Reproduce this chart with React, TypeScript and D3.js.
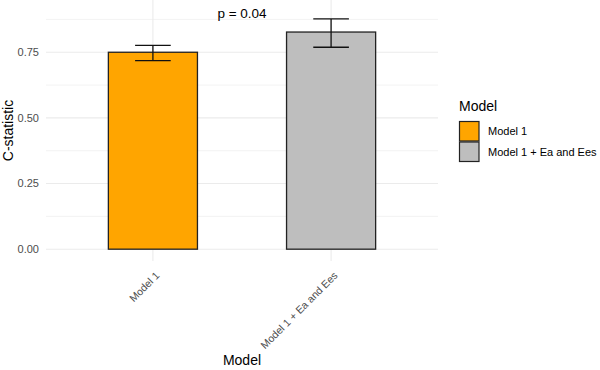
import React from 'react';
import * as d3 from 'd3';

const models = ['Model 1', 'Model 1 + Ea and Ees'];
const cStat = [0.75, 0.827];
const ciLow = [0.718, 0.769];
const ciHigh = [0.776, 0.877];
const fills = ['#FFA500', '#BEBEBE'];
const yTicks = [0, 0.25, 0.5, 0.75];
const pLabel = 'p = 0.04';
const pValueY = 0.9;

const W = 600;
const H = 370;
const panel = { left: 46, right: 438, top: 0, bottom: 261 };
const font = 'Arial, "Liberation Sans", sans-serif';

export default function App() {
  const x = d3
    .scaleBand<string>()
    .domain(models)
    .range([panel.left, panel.right])
    .paddingOuter(0.1)
    .paddingInner(0);
  const y = d3.scaleLinear().domain([-0.045, 0.949]).range([panel.bottom, panel.top]);

  const step = x.step();
  const barW = step * 0.5;
  const capW = step * 0.2;
  const cx = (m: string) => (x(m) as number) + x.bandwidth() / 2;

  const minor = yTicks.slice(0, -1).map(t => t + 0.125).concat([0.875]);

  return (
    <svg width={W} height={H} style={{ position: 'absolute', left: 0, top: 0 }}>
      <rect width={W} height={H} fill="#fff" />
      {/* grid */}
      {minor.map(t => (
        <line key={'m' + t} x1={panel.left} x2={panel.right} y1={y(t)} y2={y(t)} stroke="#ebebeb" strokeWidth={0.6} />
      ))}
      {yTicks.map(t => (
        <line key={'g' + t} x1={panel.left} x2={panel.right} y1={y(t)} y2={y(t)} stroke="#ebebeb" strokeWidth={1.1} />
      ))}
      {models.map(m => (
        <line key={'v' + m} x1={cx(m)} x2={cx(m)} y1={panel.top} y2={panel.bottom} stroke="#ebebeb" strokeWidth={1.1} />
      ))}

      {/* bars */}
      {models.map((m, i) => (
        <rect
          key={'b' + m}
          x={cx(m) - barW / 2}
          y={y(cStat[i])}
          width={barW}
          height={y(0) - y(cStat[i])}
          fill={fills[i]}
          stroke="#222"
          strokeWidth={1.3}
        />
      ))}

      {/* error bars */}
      {models.map((m, i) => (
        <g key={'e' + m} stroke="#111" strokeWidth={1.3}>
          <line x1={cx(m)} x2={cx(m)} y1={y(ciLow[i])} y2={y(ciHigh[i])} />
          <line x1={cx(m) - capW / 2} x2={cx(m) + capW / 2} y1={y(ciLow[i])} y2={y(ciLow[i])} />
          <line x1={cx(m) - capW / 2} x2={cx(m) + capW / 2} y1={y(ciHigh[i])} y2={y(ciHigh[i])} />
        </g>
      ))}

      <text
        x={(cx(models[0]) + cx(models[1])) / 2}
        y={y(pValueY)}
        dy="0.35em"
        textAnchor="middle"
        fontFamily={font}
        fontSize={13.5}
        fill="#000"
      >
        {pLabel}
      </text>

      {/* y axis */}
      {yTicks.map(t => (
        <text
          key={'yt' + t}
          x={39}
          y={y(t)}
          dy="0.35em"
          textAnchor="end"
          fontFamily={font}
          fontSize={11}
          fill="#4d4d4d"
        >
          {d3.format('.2f')(t)}
        </text>
      ))}
      <text
        transform={`translate(13, ${(panel.top + panel.bottom) / 2}) rotate(-90)`}
        textAnchor="middle"
        fontFamily={font}
        fontSize={14}
        fill="#000"
      >
        C-statistic
      </text>

      {/* x axis */}
      {models.map(m => (
        <text
          key={'xt' + m}
          transform={`translate(${cx(m) + 2}, ${panel.bottom + 10}) rotate(-45)`}
          textAnchor="end"
          dy="0.7em"
          fontFamily={font}
          fontSize={10.5}
          fill="#4d4d4d"
        >
          {m}
        </text>
      ))}
      <text x={(panel.left + panel.right) / 2} y={365} textAnchor="middle" fontFamily={font} fontSize={14} fill="#000">
        Model
      </text>

      {/* legend */}
      <text x={459} y={111} fontFamily={font} fontSize={14} fill="#000">
        Model
      </text>
      {models.map((m, i) => (
        <g key={'l' + m} transform={`translate(459, ${121 + i * 20.5})`}>
          <rect x={0.5} y={0.5} width={19.5} height={19.5} fill={fills[i]} stroke="#222" strokeWidth={1.2} />
          <text x={29} y={10.5} dy="0.35em" fontFamily={font} fontSize={11} fill="#000">
            {m}
          </text>
        </g>
      ))}
    </svg>
  );
}
